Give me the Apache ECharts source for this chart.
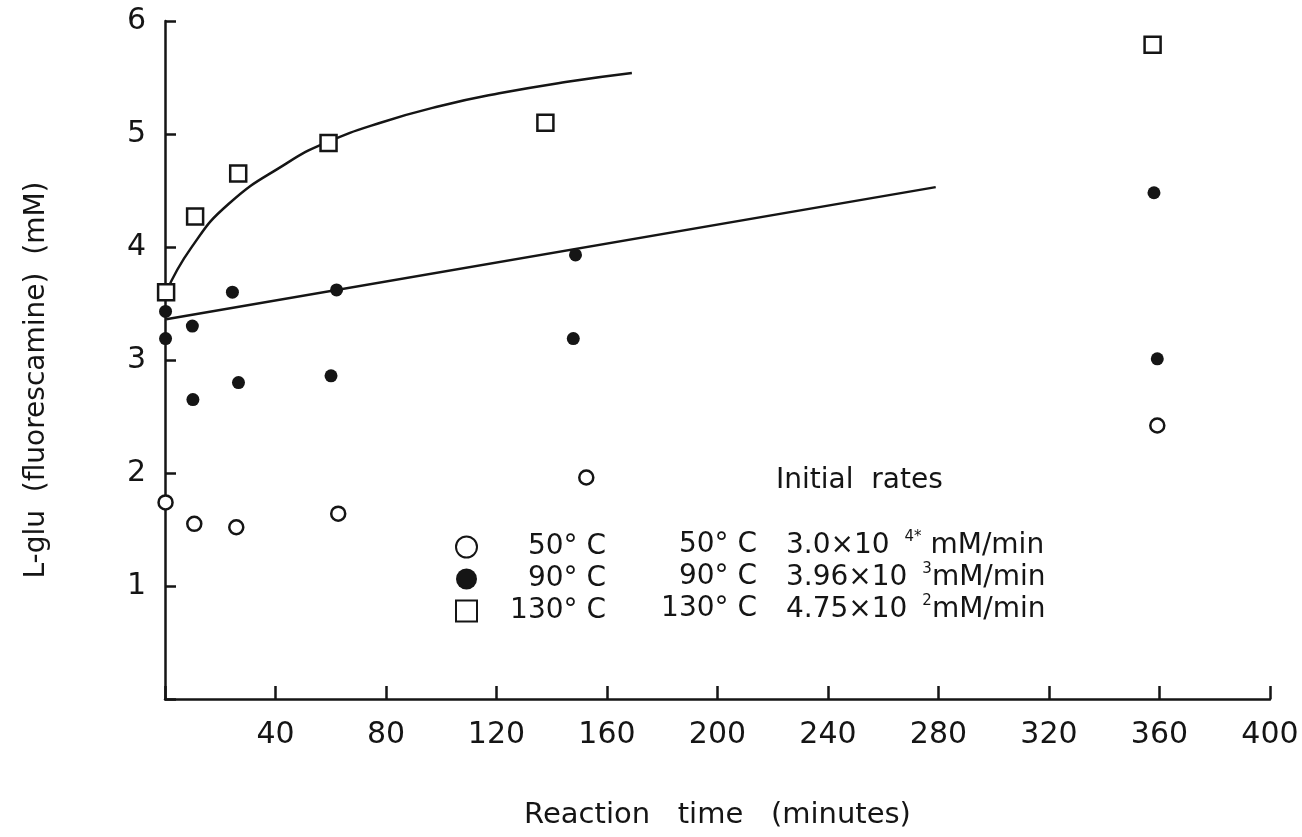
<!DOCTYPE html>
<html>
<head>
<meta charset="utf-8">
<script src="https://cdn.jsdelivr.net/npm/echarts@6/dist/echarts.min.js"></script>
<style>
html,body{margin:0;padding:0;background:#fff;}
#chart{width:1302px;height:837px;}
</style>
</head>
<body>
<div id="chart"></div>
<script>
// ---- data ----
const xTicks = [0, 40, 80, 120, 160, 200, 240, 280, 320, 360, 400];
const yTicks = [0, 1, 2, 3, 4, 5, 6];

const time50 = [0.2, 10.6, 25.8, 62.7, 152.5, 359.2];
const glu50  = [1.74, 1.55, 1.52, 1.64, 1.96, 2.42];

const time90 = [0.2, 0.2, 9.9, 10.1, 24.4, 26.6, 60.1, 62.1, 148.6, 147.8, 358, 359.2];
const glu90  = [3.43, 3.19, 3.30, 2.65, 3.60, 2.80, 2.86, 3.62, 3.93, 3.19, 4.48, 3.01];

const time130 = [0.4, 10.9, 26.5, 59.2, 137.7, 357.5];
const glu130  = [3.60, 4.27, 4.65, 4.92, 5.10, 5.79];

// fitted curve for 130 °C
const curveT = [0.4, 9.4, 23, 44, 58, 78, 100, 121, 145, 169];
const curveY = [3.60, 3.99, 4.38, 4.74, 4.92, 5.10, 5.25, 5.36, 5.46, 5.54];

// straight line for 90 °C
const lineT = [0.4, 279];
const lineY = [3.36, 4.53];

const seriesNames = ['50° C', '90° C', '130° C'];
const rateTemps = ['50° C', '90° C', '130° C'];
const rateMant = ['3.0×10', '3.96×10', '4.75×10'];
const rateExp = ['4*', '3', '2'];

const zip = (a, b) => a.map((v, i) => [v, b[i]]);

const FONT = '"DejaVu Sans", "Liberation Sans", Arial, sans-serif';
const INK = '#151515';

const chart = echarts.init(document.getElementById('chart'));

const graphics = [];
graphics.push({
  type: 'text', x: 37, y: 380, rotation: Math.PI / 2,
  style: { text: 'L-glu  (fluorescamine)  (mM)', font: '28px ' + FONT, fill: INK,
    align: 'center', verticalAlign: 'middle' }
});
graphics.push({
  type: 'text', x: 776, y: 481,
  style: { text: 'Initial  rates', font: '28px ' + FONT, fill: INK, verticalAlign: 'middle' }
});
const rowsY = [545, 577, 609];
rateTemps.forEach((t, i) => {
  graphics.push({
    type: 'text', x: 757, y: rowsY[i],
    style: { text: t, font: '28px ' + FONT, fill: INK, align: 'right', verticalAlign: 'middle' }
  });
  graphics.push({
    type: 'text', x: 786, y: rowsY[i],
    style: {
      text: '{m|' + rateMant[i] + ' }{e|' + rateExp[i] + '}{m|' + (i === 0 ? ' ' : '') + 'mM/min}',
      verticalAlign: 'middle', align: 'left',
      rich: {
        m: { font: '28px ' + FONT, fill: INK, lineHeight: 30, verticalAlign: 'bottom' },
        e: { font: '15px ' + FONT, fill: INK, lineHeight: 30, verticalAlign: 'top', padding: [0, 0, 0, 6] }
      }
    }
  });
});

const option = {
  backgroundColor: '#fff',
  animation: false,
  textStyle: { fontFamily: FONT, color: INK },
  grid: { left: 165, right: 32, top: 21, bottom: 138, containLabel: false },
  legend: {
    data: seriesNames,
    orient: 'vertical',
    left: 450, top: 528,
    itemWidth: 21, itemHeight: 21, itemGap: 4,
    textStyle: { fontSize: 28, color: INK, fontFamily: FONT, lineHeight: 28,
      rich: { r: { fontSize: 28, width: 124, align: 'right', fontFamily: FONT, color: INK } } },
    formatter: n => '{r|' + n + '}',
    selectedMode: false
  },
  xAxis: {
    type: 'value', min: 0, max: 400, interval: 40,
    name: 'Reaction   time   (minutes)', nameLocation: 'middle', nameGap: 102,
    nameTextStyle: { fontSize: 29, color: INK, fontFamily: FONT },
    axisLine: { show: true, onZero: false, lineStyle: { color: INK, width: 2.5 } },
    axisTick: { show: true, inside: true, length: 13, lineStyle: { color: INK, width: 2.5 } },
    axisLabel: { fontSize: 30, color: INK, margin: 21, fontFamily: FONT,
      formatter: v => (v === 0 ? '' : String(v)) },
    splitLine: { show: false }
  },
  yAxis: {
    type: 'value', min: 0, max: 6, interval: 1,
    axisLine: { show: true, onZero: false, lineStyle: { color: INK, width: 2.5 } },
    axisTick: { show: true, inside: true, length: 11, lineStyle: { color: INK, width: 2.5 } },
    axisLabel: { fontSize: 30, color: INK, margin: 19, fontFamily: FONT,
      formatter: v => (v === 0 ? '' : String(v)) },
    splitLine: { show: false }
  },
  series: [
    {
      name: '130° C fit', type: 'line', data: zip(curveT, curveY), smooth: 0.5,
      showSymbol: false, symbol: 'none', lineStyle: { color: INK, width: 2.5 }, z: 2
    },
    {
      name: '90° C fit', type: 'line', data: zip(lineT, lineY),
      showSymbol: false, symbol: 'none', lineStyle: { color: INK, width: 2.5 }, z: 2
    },
    {
      name: seriesNames[0], type: 'scatter', data: zip(time50, glu50),
      symbol: 'circle', symbolSize: 14,
      itemStyle: { color: '#fff', borderColor: INK, borderWidth: 2.5, opacity: 1 }, z: 3
    },
    {
      name: seriesNames[1], type: 'scatter', data: zip(time90, glu90),
      symbol: 'circle', symbolSize: 13,
      itemStyle: { color: INK, borderColor: INK, borderWidth: 0, opacity: 1 }, z: 3
    },
    {
      name: seriesNames[2], type: 'scatter', data: zip(time130, glu130),
      symbol: 'rect', symbolSize: 16,
      itemStyle: { color: '#fff', borderColor: INK, borderWidth: 2.5, opacity: 1 }, z: 3
    }
  ],
  graphic: graphics
};
chart.setOption(option);
</script>
</body>
</html>
